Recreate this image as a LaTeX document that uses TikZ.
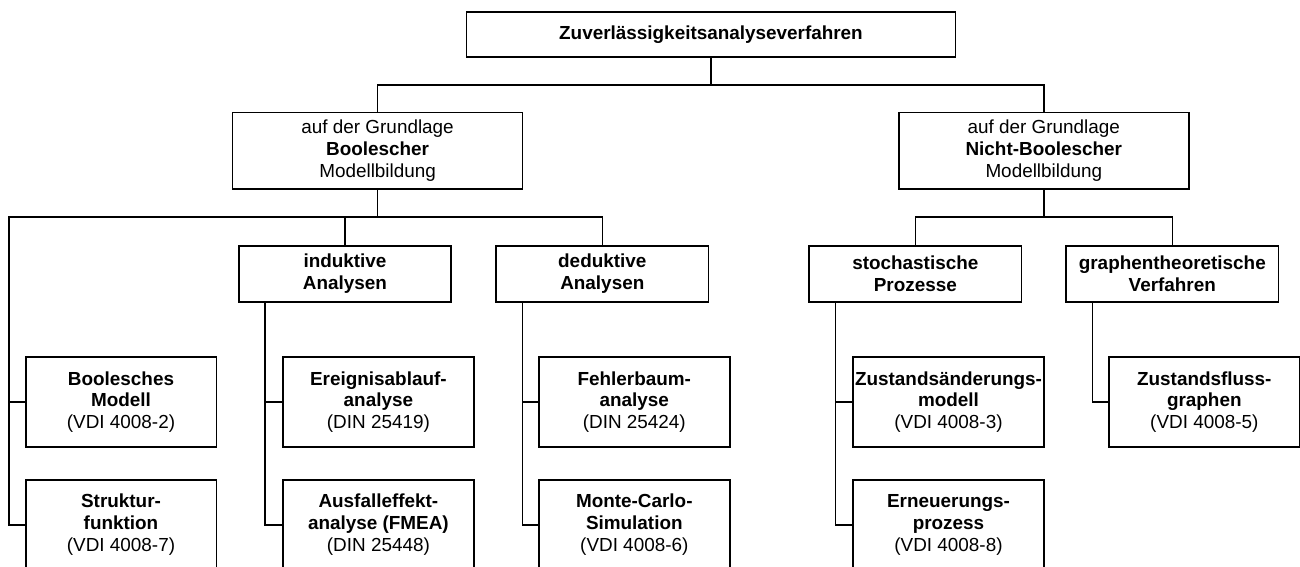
\documentclass[tikz,border=0pt]{standalone}
\usepackage{fontspec}
\setmainfont{Liberation Sans}
\begin{document}
\begin{tikzpicture}[x=1pt,y=-1pt,
  box/.style={draw,line width=1.7pt,align=center,inner sep=0pt,
    font=\fontsize{18.9}{21.8}\selectfont},
  topbox/.style={box,minimum width=489pt,minimum height=45pt},
  midbox/.style={box,minimum width=290pt,minimum height=76.5pt},
  catbox/.style={box,minimum width=212.5pt,minimum height=56pt},
  leafbox/.style={box,minimum width=190.7pt,minimum height=89.4pt},
  conn/.style={line width=1.6pt}]
\useasboundingbox (0,0) rectangle (1300,566);
\begin{scope}
\clip (0,0) rectangle (1300,566);
\node[topbox] (top) at (711,34.8) {\bfseries Zuverlässigkeitsanalyseverfahren};
\node[midbox] (B1) at (377.6,150.7) {auf der Grundlage\\\bfseries Boolescher\\Modellbildung};
\node[midbox] (B2) at (1043.8,150.7) {auf der Grundlage\\\bfseries Nicht-Boolescher\\Modellbildung};
\node[catbox] (ind) at (345,274) {\bfseries induktive\\\bfseries Analysen};
\node[catbox] (ded) at (602.3,274) {\bfseries deduktive\\\bfseries Analysen};
\node[catbox] (sto) at (915.3,274) {\bfseries stochastische\\\bfseries Prozesse};
\node[catbox] (gra) at (1172.3,274) {\bfseries graphentheoretische\\\bfseries Verfahren};
\node[leafbox] (b01) at (121,402) {\bfseries Boolesches\\\bfseries Modell\\(VDI 4008-2)};
\node[leafbox] (b02) at (121,524.7) {\bfseries Struktur-\\\bfseries funktion\\(VDI 4008-7)};
\node[leafbox] (b11) at (378.4,402) {\bfseries Ereignisablauf-\\\bfseries analyse\\(DIN 25419)};
\node[leafbox] (b12) at (378.4,524.7) {\bfseries Ausfalleffekt-\\\bfseries analyse (FMEA)\\(DIN 25448)};
\node[leafbox] (b21) at (634.3,402) {\bfseries Fehlerbaum-\\\bfseries analyse\\(DIN 25424)};
\node[leafbox] (b22) at (634.3,524.7) {\bfseries Monte-Carlo-\\\bfseries Simulation\\(VDI 4008-6)};
\node[leafbox] (b31) at (948.5,402) {\bfseries Zustandsänderungs-\\\bfseries modell\\(VDI 4008-3)};
\node[leafbox] (b32) at (948.5,524.7) {\bfseries Erneuerungs-\\\bfseries prozess\\(VDI 4008-8)};
\node[leafbox] (b41) at (1204.3,402) {\bfseries Zustandsfluss-\\\bfseries graphen\\(VDI 4008-5)};
\coordinate (j0) at (711,84.7);
\coordinate (j1) at (377.6,217);
\coordinate (j2) at (1043.8,217);
\coordinate (L0) at (9.2,217);
\draw[conn] (top.south) -- (j0);
\draw[conn] (B1.north) |- (j0) -| (B2.north);
\draw[conn] (B1.south) -- (j1);
\draw[conn] (ind.north) |- (j1) -| (ded.north);
\draw[conn] (j1) -- (L0) |- (b02.west);
\draw[conn] (L0) |- (b01.west);
\draw[conn] ([xshift=-80pt]ind.south) |- (b12.west);
\draw[conn] ([xshift=-80pt]ind.south) |- (b11.west);
\draw[conn] ([xshift=-80pt]ded.south) |- (b22.west);
\draw[conn] ([xshift=-80pt]ded.south) |- (b21.west);
\draw[conn] ([xshift=-80pt]sto.south) |- (b32.west);
\draw[conn] ([xshift=-80pt]sto.south) |- (b31.west);
\draw[conn] ([xshift=-80pt]gra.south) |- (b41.west);
\draw[conn] (B2.south) -- (j2);
\draw[conn] (sto.north) |- (j2) -| (gra.north);
\end{scope}
\end{tikzpicture}
\end{document}
